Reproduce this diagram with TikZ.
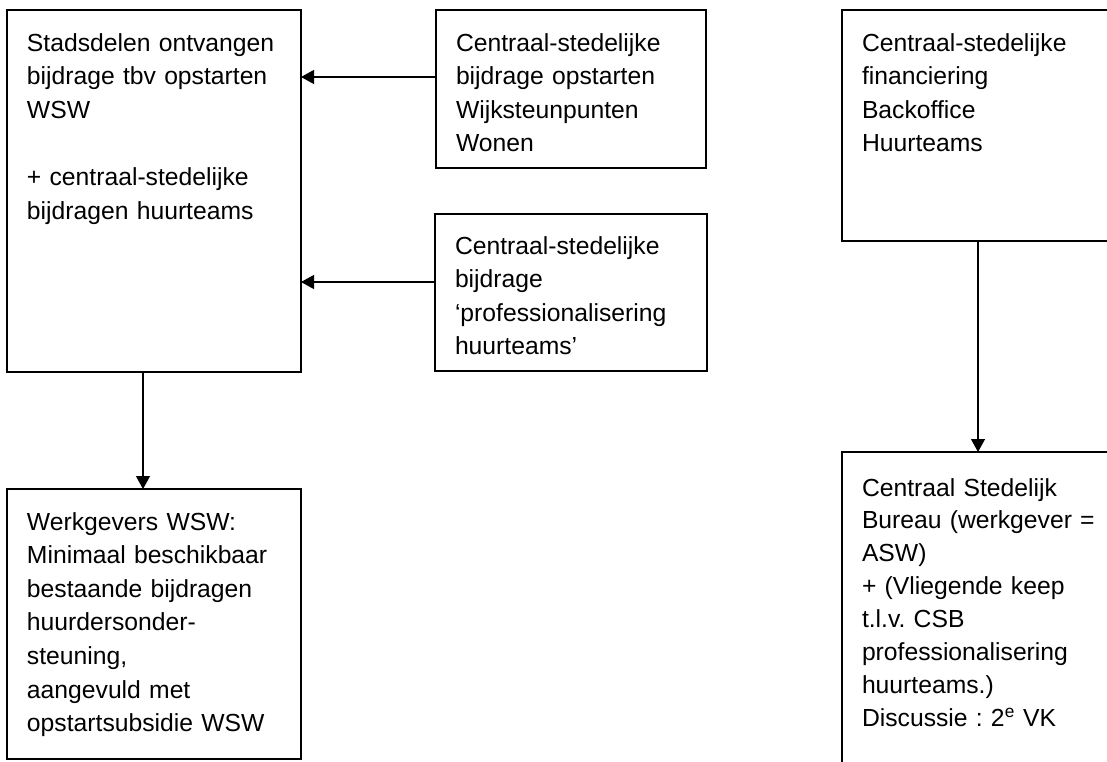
\documentclass[tikz,border=0pt]{standalone}
\usepackage{fontspec}
\setmainfont{Liberation Sans}
\usetikzlibrary{arrows.meta}
\frenchspacing
\begin{document}
\begin{tikzpicture}[x=1pt, y=-1pt, line width=1.4pt,
    box/.style={draw, rectangle, anchor=north west, align=left, inner xsep=20pt, inner ysep=0pt, outer sep=0pt, text height=41pt, font=\fontsize{24.7}{33.6}\selectfont},
    >={Triangle[length=13pt, width=14pt]}]
                \clip (0,0) rectangle (1107,761);
                % Nodes
                \node[box, text width=254pt, text depth=321pt] (A) at (7,10) {Stadsdelen ontvangen\\bijdrage tbv opstarten\\WSW\\[33.6pt]+ centraal-stedelijke\\bijdragen huurteams};
                \node[box, text width=230pt, text depth=117pt] (B) at (436,10) {Centraal-stedelijke\\bijdrage opstarten\\Wijksteunpunten\\Wonen};
                \node[box, text width=232pt, text height=40pt, text depth=117pt] (C) at (435,214) {Centraal-stedelijke\\bijdrage\\`professionalisering\\huurteams'};
                \node[box, text width=240pt, text depth=190pt] (D) at (842,10) {Centraal-stedelijke\\financiering\\Backoffice\\Huurteams};
                \node[box, text width=254pt, text depth=229pt] (E) at (7,489) {Werkgevers WSW:\\Minimaal beschikbaar\\bestaande bijdragen\\huurdersonder-\\steuning,\\aangevuld met\\opstartsubsidie WSW};
                \node[box, text width=240pt, text height=44pt, font=\fontsize{24.7}{32.9}\selectfont, text depth=284pt] (F) at (842,452) {Centraal Stedelijk\\Bureau (werkgever =\\ASW)\\+ (Vliegende keep\\t.l.v. CSB\\professionalisering\\huurteams.)\\Discussie : 2\textsuperscript{e} VK};
                % Edges
                \draw[->, black, line width=1.2pt] ([yshift=12pt]B.west) -- ([yshift=12pt]B.west -| A.east);
                \draw[->, black, line width=1.2pt] ([yshift=10.5pt]C.west) -- ([yshift=10.5pt]C.west -| A.east);

                \draw[->, black, line width=1.2pt] ([xshift=-11pt]A.south) -- ([xshift=-11pt]A.south |- E.north);

                \draw[->, black, line width=1.2pt] ([xshift=136pt]D.south west) -- ([xshift=136pt]D.south west |- F.north);

            \end{tikzpicture}
\end{document}
